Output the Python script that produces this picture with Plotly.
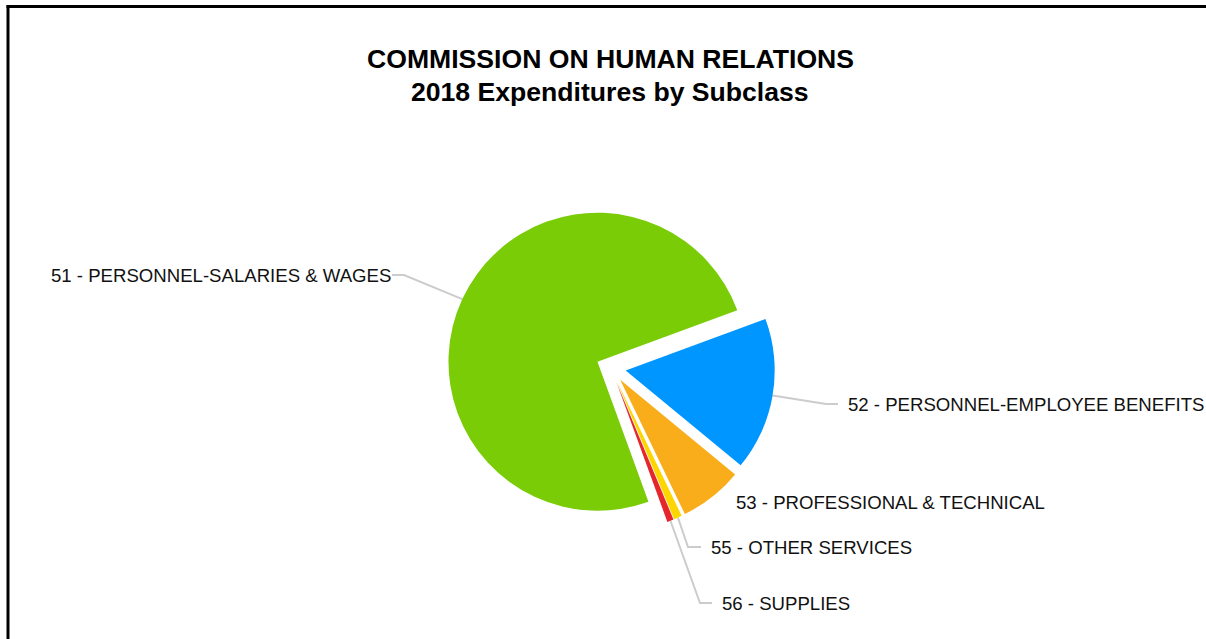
import math
import plotly.graph_objects as go

# 2018 expenditures by subclass (USD)
categories = [
    "51 - PERSONNEL-SALARIES & WAGES",
    "52 - PERSONNEL-EMPLOYEE BENEFITS",
    "53 - PROFESSIONAL & TECHNICAL",
    "55 - OTHER SERVICES",
    "56 - SUPPLIES",
]
amounts = [2460000, 545000, 226000, 29000, 23000]
colors = ["#7acc06", "#0096ff", "#f9ad1a", "#fdd600", "#e5262a"]

W, H = 1206, 639
FONT = "Liberation Sans, Arial, sans-serif"

# pie placement in pixels
CX, CY = 611, 368
R = 149
PULL = 0.10
ROTATION = 160

half = R * (1 + PULL)
domain_x = [(CX - half) / W, (CX + half) / W]
domain_y = [1 - (CY + half) / H, 1 - (CY - half) / H]


def px(x):
    return x / W


def py(y):
    return 1 - y / H


fig = go.Figure(
    go.Pie(
        labels=categories,
        values=amounts,
        marker=dict(colors=colors, line=dict(width=0)),
        sort=False,
        direction="clockwise",
        rotation=ROTATION,
        pull=[PULL] * len(amounts),
        textinfo="none",
        hoverinfo="label+value+percent",
        domain=dict(x=domain_x, y=domain_y),
        showlegend=False,
    )
)

# slice mid-angles (clockwise from 12 o'clock), derived from the amounts
total = sum(amounts)
mid_angles = []
a = ROTATION
for v in amounts:
    span = 360.0 * v / total
    mid_angles.append(a + span / 2)
    a += span

# label placement: (elbow, line end, text anchor x, text y, xanchor)
label_layout = [
    ((404, 275), (392, 275), 393, 275, "right"),
    ((826, 404), (838, 404), 846, 404, "left"),
    (None, None, 734, 502, "left"),
    ((688, 547), (701, 547), 709, 547, "left"),
    ((700, 603), (712, 603), 720, 603, "left"),
]

shapes = []
annotations = []
for name, ang, (elbow, end, tx, ty, anchor) in zip(categories, mid_angles, label_layout):
    if elbow is not None:
        d = R * (1 + PULL)
        sx = CX + d * math.sin(math.radians(ang))
        sy = CY - d * math.cos(math.radians(ang))
        path = "M {} {} L {} {} L {} {}".format(
            px(sx), py(sy), px(elbow[0]), py(elbow[1]), px(end[0]), py(end[1])
        )
        shapes.append(dict(type="path", xref="paper", yref="paper", path=path,
                           line=dict(color="#cccccc", width=2), layer="below"))
    annotations.append(dict(
        text=name, x=px(tx), y=py(ty), xref="paper", yref="paper",
        xanchor=anchor, yanchor="middle", showarrow=False,
        font=dict(family=FONT, size=18.6, color="#111111"),
    ))

# chart title
annotations.append(dict(text="<b>COMMISSION ON HUMAN RELATIONS</b>", x=px(610), y=py(59),
                        xref="paper", yref="paper", xanchor="center", yanchor="middle",
                        showarrow=False, font=dict(family=FONT, size=26.6, color="#000000")))
annotations.append(dict(text="<b>2018 Expenditures by Subclass</b>", x=px(610), y=py(92),
                        xref="paper", yref="paper", xanchor="center", yanchor="middle",
                        showarrow=False, font=dict(family=FONT, size=26.6, color="#000000")))

# frame along the top and left edges
shapes.append(dict(type="line", xref="paper", yref="paper", x0=px(8), x1=px(8),
                   y0=py(5), y1=py(H + 5), line=dict(color="#000000", width=3)))
shapes.append(dict(type="line", xref="paper", yref="paper", x0=px(6.5), x1=px(W + 5),
                   y0=py(6.5), y1=py(6.5), line=dict(color="#000000", width=3)))

fig.update_layout(
    width=W, height=H, autosize=False,
    margin=dict(l=0, r=0, t=0, b=0),
    paper_bgcolor="white", plot_bgcolor="white",
    shapes=shapes, annotations=annotations,
    font=dict(family=FONT),
)

fig.write_html("out.html")
